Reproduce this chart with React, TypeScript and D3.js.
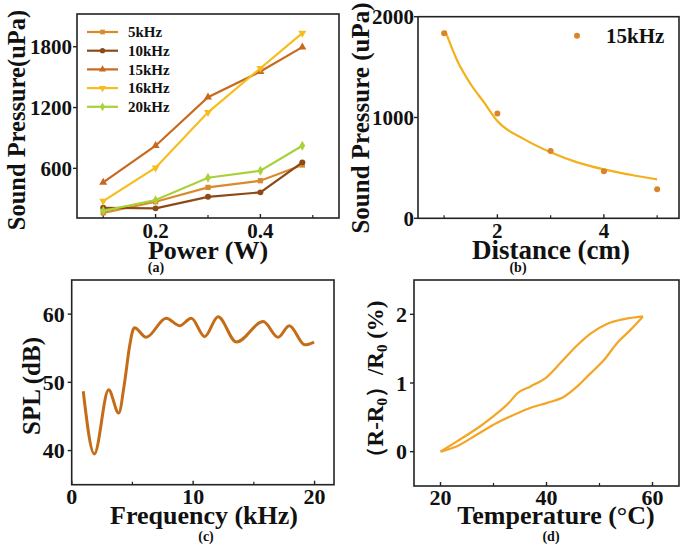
import React from "react";
import * as d3 from "d3";

// ---------- Data ----------
const powerX = [0.1, 0.2, 0.3, 0.4, 0.48];
const seriesNames = ["5kHz", "10kHz", "15kHz", "16kHz", "20kHz"];
const p5k = [161, 270, 412, 478, 633];
const p10k = [211, 205, 319, 363, 659];
const p15k = [462, 823, 1302, 1555, 1796];
const p16k = [277, 606, 1153, 1588, 1934];
const p20k = [181, 287, 507, 576, 823];

const distX = [1, 2, 3, 4, 5];
const distY = [1836, 1039, 668, 467, 287];
const fitX = [1.02, 1.25, 1.5, 1.75, 2, 2.5, 3, 3.5, 4, 4.5, 5];
const fitY = [1861, 1560, 1330, 1150, 965, 785, 655, 555, 485, 432, 387];

const freqX = [0.95, 1.86, 3.04, 3.87, 4.34, 4.75, 5.03, 5.17, 6.13, 7.78, 8.88, 9.85, 10.95, 12.05, 13.57, 15.77, 17.0, 17.92, 19.2, 19.96];
const splY = [48.7, 39.5, 48.9, 45.5, 49.8, 55.1, 57.6, 58.0, 56.6, 59.4, 58.3, 59.4, 56.7, 59.6, 55.9, 58.9, 56.6, 58.3, 55.5, 55.9];

const heatT = [20, 23.1, 27.5, 30.7, 33.0, 34.5, 37.0, 40.1, 42.6, 45.8, 48.3, 51.4, 54.6, 58.2];
const heatR = [0, 0.15, 0.37, 0.56, 0.72, 0.85, 0.95, 1.09, 1.29, 1.55, 1.72, 1.86, 1.93, 1.97];
const coolT = [20, 23.1, 26.9, 30.7, 34.5, 37.0, 40.1, 43.3, 45.8, 48.3, 50.8, 53.3, 55.8, 58.2];
const coolR = [0, 0.08, 0.25, 0.42, 0.56, 0.64, 0.71, 0.80, 0.95, 1.14, 1.33, 1.58, 1.77, 1.97];

const FONT = "'Liberation Serif', 'Times New Roman', serif";

type AxisCfg = {
  x0: number; x1: number; y0: number; y1: number;
  xd: [number, number]; yd: [number, number];
  xMajor: number[]; xMinor: number[]; yMajor: number[];
  xFmt: (v: number) => string; yFmt: (v: number) => string;
  tickFont: number; xLabDy: number; yLabDx: number;
};

function Frame({ c, xs, ys }: { c: AxisCfg; xs: any; ys: any }) {
  return (
    <g>
      <rect x={c.x0} y={c.y0} width={c.x1 - c.x0} height={c.y1 - c.y0} fill="none" stroke="#222" strokeWidth={1.6} />
      {c.xMajor.map((v) => (
        <g key={"xm" + v}>
          <line x1={xs(v)} x2={xs(v)} y1={c.y1} y2={c.y1 - 4} stroke="#222" strokeWidth={1.4} />
          <text x={xs(v)} y={c.y1 + c.xLabDy} textAnchor="middle" fontFamily={FONT} fontWeight="bold" fontSize={c.tickFont} fill="#111">{c.xFmt(v)}</text>
        </g>
      ))}
      {c.xMinor.map((v) => (
        <line key={"xn" + v} x1={xs(v)} x2={xs(v)} y1={c.y1} y2={c.y1 - 3} stroke="#222" strokeWidth={1.2} />
      ))}
      {c.yMajor.map((v) => (
        <g key={"ym" + v}>
          <line x1={c.x0} x2={c.x0 - 4} y1={ys(v)} y2={ys(v)} stroke="#222" strokeWidth={1.4} />
          <text x={c.x0 - c.yLabDx} y={ys(v)} dy="0.35em" textAnchor="end" fontFamily={FONT} fontWeight="bold" fontSize={c.tickFont} fill="#111">{c.yFmt(v)}</text>
        </g>
      ))}
    </g>
  );
}

function Title({ x, y, size, children, rotate }: any) {
  return (
    <text x={x} y={y} textAnchor="middle" fontFamily={FONT} fontWeight="bold" fontSize={size} fill="#111"
      transform={rotate ? `rotate(-90 ${x} ${y})` : undefined}>{children}</text>
  );
}

export default function App() {
  // ---- Panel (a) ----
  const ca: AxisCfg = {
    x0: 77, x1: 339, y0: 14, y1: 218, xd: [0.05, 0.55], yd: [110, 2123],
    xMajor: [0.2, 0.4], xMinor: [0.1, 0.3, 0.5], yMajor: [600, 1200, 1800],
    xFmt: (v) => v.toFixed(1), yFmt: (v) => String(v), tickFont: 21, xLabDy: 20, yLabDx: 5,
  };
  const xa = d3.scaleLinear().domain(ca.xd).range([ca.x0, ca.x1]);
  const ya = d3.scaleLinear().domain(ca.yd).range([ca.y1, ca.y0]);
  const aSeries = [p5k, p10k, p15k, p16k, p20k];
  const aColors = ["#D88A2C", "#8B4A16", "#C8691F", "#F7BC1E", "#A8D13A"];
  const aSymbols = [d3.symbolSquare, d3.symbolCircle, d3.symbolTriangle, d3.symbolTriangle, d3.symbolDiamond];
  const aRot = [0, 0, 0, 180, 0];
  const lineA = d3.line<number>().x((_, i) => xa(powerX[i])).y((d) => ya(d));

  // ---- Panel (b) ----
  const cb: AxisCfg = {
    x0: 418, x1: 679, y0: 16.7, y1: 218.3, xd: [0.51, 5.41], yd: [0, 2000],
    xMajor: [2, 4], xMinor: [1, 3, 5], yMajor: [0, 1000, 2000],
    xFmt: (v) => String(v), yFmt: (v) => String(v), tickFont: 21, xLabDy: 20, yLabDx: 4,
  };
  const xb = d3.scaleLinear().domain(cb.xd).range([cb.x0, cb.x1]);
  const yb = d3.scaleLinear().domain(cb.yd).range([cb.y1, cb.y0]);
  const lineB = d3.line<number>().x((_, i) => xb(fitX[i])).y((d) => yb(d)).curve(d3.curveMonotoneX);

  // ---- Panel (c) ----
  const cc: AxisCfg = {
    x0: 71.7, x1: 334, y0: 280, y1: 484.7, xd: [0, 21.6], yd: [35, 65],
    xMajor: [0, 10, 20], xMinor: [5, 15], yMajor: [40, 50, 60],
    xFmt: (v) => String(v), yFmt: (v) => String(v), tickFont: 22, xLabDy: 19, yLabDx: 7,
  };
  const xc = d3.scaleLinear().domain(cc.xd).range([cc.x0, cc.x1]);
  const yc = d3.scaleLinear().domain(cc.yd).range([cc.y1, cc.y0]);
  const lineC = d3.line<number>().x((_, i) => xc(freqX[i])).y((d) => yc(d)).curve(d3.curveMonotoneX);

  // ---- Panel (d) ----
  const cd: AxisCfg = {
    x0: 414, x1: 679, y0: 280, y1: 486, xd: [15, 65], yd: [-0.5, 2.5],
    xMajor: [20, 40, 60], xMinor: [30, 50], yMajor: [0, 1, 2],
    xFmt: (v) => String(v), yFmt: (v) => String(v), tickFont: 22, xLabDy: 19, yLabDx: 7,
  };
  const xd = d3.scaleLinear().domain(cd.xd).range([cd.x0, cd.x1]);
  const yd = d3.scaleLinear().domain(cd.yd).range([cd.y1, cd.y0]);
  const lineHeat = d3.line<number>().x((_, i) => xd(heatT[i])).y((d) => yd(d)).curve(d3.curveMonotoneX);
  const lineCool = d3.line<number>().x((_, i) => xd(coolT[i])).y((d) => yd(d)).curve(d3.curveMonotoneX);

  const legY0 = 32, legStep = 18.7;

  return (
    <svg width={688} height={548} style={{ position: "absolute", left: 0, top: 0, background: "#fff" }}>
      <rect width={688} height={548} fill="#fff" />

      {/* (a) */}
      <Frame c={ca} xs={xa} ys={ya} />
      {aSeries.map((s, k) => (
        <g key={"a" + k}>
          <path d={lineA(s) || ""} fill="none" stroke={aColors[k]} strokeWidth={2.2} />
          {s.map((v, i) => (
            <path key={i} d={d3.symbol().type(aSymbols[k]).size(28)() || ""} fill={aColors[k]}
              transform={`translate(${xa(powerX[i])},${ya(v)}) rotate(${aRot[k]})`} />
          ))}
        </g>
      ))}
      {seriesNames.map((n, k) => (
        <g key={"la" + k}>
          <line x1={87} x2={118} y1={legY0 + k * legStep} y2={legY0 + k * legStep} stroke={aColors[k]} strokeWidth={2.2} />
          <path d={d3.symbol().type(aSymbols[k]).size(22)() || ""} fill={aColors[k]}
            transform={`translate(102.5,${legY0 + k * legStep}) rotate(${aRot[k]})`} />
          <text x={128} y={legY0 + k * legStep} dy="0.35em" fontFamily={FONT} fontWeight="bold" fontSize={15} fill="#111">{n}</text>
        </g>
      ))}
      <Title x={25} y={120} size={24.5} rotate>Sound Pressure(uPa)</Title>
      <Title x={208} y={259} size={26}>Power (W)</Title>
      <Title x={156} y={272} size={14}>(a)</Title>

      {/* (b) */}
      <Frame c={cb} xs={xb} ys={yb} />
      <path d={lineB(fitY) || ""} fill="none" stroke="#F2B01A" strokeWidth={2.2} />
      {distY.map((v, i) => (
        <circle key={i} cx={xb(distX[i])} cy={yb(v)} r={3} fill="#D9842A" />
      ))}
      <circle cx={577} cy={35.7} r={3} fill="#D9842A" />
      <text x={606} y={43} fontFamily={FONT} fontWeight="bold" fontSize={21} fill="#111">15kHz</text>
      <Title x={369} y={118} size={25} rotate>Sound Pressure (uPa)</Title>
      <Title x={551} y={259} size={27}>Distance (cm)</Title>
      <Title x={518} y={272} size={14}>(b)</Title>

      {/* (c) */}
      <Frame c={cc} xs={xc} ys={yc} />
      <path d={lineC(splY) || ""} fill="none" stroke="#C46C17" strokeWidth={3} />
      <Title x={40} y={386} size={25} rotate>SPL (dB)</Title>
      <Title x={204} y={524} size={26}>Frequency (kHz)</Title>
      <Title x={206} y={541} size={14}>(c)</Title>

      {/* (d) */}
      <Frame c={cd} xs={xd} ys={yd} />
      <path d={lineHeat(heatR) || ""} fill="none" stroke="#F5A524" strokeWidth={2.2} />
      <path d={lineCool(coolR) || ""} fill="none" stroke="#F5A524" strokeWidth={2.2} />
      <text x={383} y={385} textAnchor="middle" fontFamily={FONT} fontWeight="bold" fontSize={23} fill="#111"
        transform="rotate(-90 383 385)">
        （R-R<tspan fontSize={15} dy={4}>0</tspan><tspan dy={-4}>）/R</tspan><tspan fontSize={15} dy={4}>0</tspan><tspan dy={-4}> (%)</tspan>
      </text>
      <Title x={556} y={524} size={26}>Temperature (°C)</Title>
      <Title x={551} y={541} size={14}>(d)</Title>
    </svg>
  );
}
